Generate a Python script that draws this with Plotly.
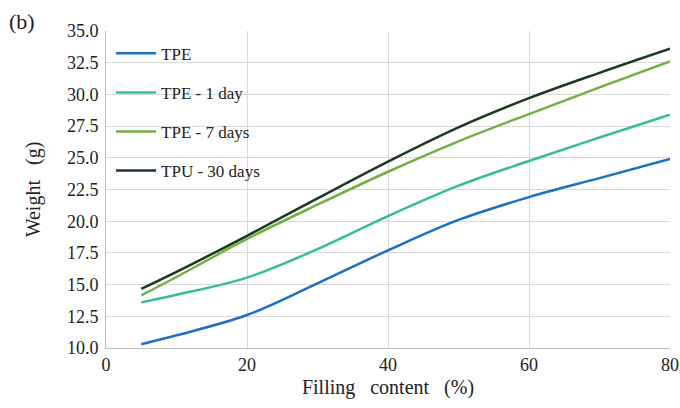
import plotly.graph_objects as go

filling = [5, 10, 20, 30, 40, 50, 60, 70, 80]
tpe = [10.3, 11.0, 12.6, 15.1, 17.7, 20.1, 21.9, 23.4, 24.9]
tpe_1day = [13.6, 14.2, 15.55, 17.8, 20.4, 22.8, 24.75, 26.6, 28.4]
tpe_7days = [14.15, 15.6, 18.6, 21.3, 23.9, 26.3, 28.45, 30.55, 32.6]
tpu_30days = [14.66, 16.0, 18.85, 21.8, 24.7, 27.4, 29.7, 31.7, 33.6]

names = ["TPE", "TPE - 1 day", "TPE - 7 days", "TPU - 30 days"]
series = [tpe, tpe_1day, tpe_7days, tpu_30days]
colors = ["#1a70c2", "#33bf90", "#72b043", "#1a3a1e"]

font_family = "Liberation Serif, Times New Roman, serif"

fig = go.Figure()
for i, (n, s, c) in enumerate(zip(names, series, colors)):
    fig.add_trace(go.Scatter(
        x=filling, y=s, name=n, mode="lines",
        line=dict(color=c, width=2.5, shape="spline", smoothing=1.0),
        legendgroup=f"g{i}",
    ))

fig.update_layout(
    width=680, height=408,
    margin=dict(l=106, r=10, t=31, b=60),
    paper_bgcolor="white", plot_bgcolor="white",
    font=dict(family=font_family, size=18, color="#222222"),
    legend=dict(
        x=0.009, y=0.985, xanchor="left", yanchor="top",
        bgcolor="rgba(0,0,0,0)", font=dict(size=17, family=font_family),
        traceorder="grouped", tracegroupgap=14, itemwidth=40,
    ),
    xaxis=dict(
        range=[0, 80], tickvals=[0, 20, 40, 60, 80],
        tickfont=dict(family=font_family, size=18, color="#222222"),
        showgrid=True, gridcolor="#d9d9d9", gridwidth=1,
        showline=True, linecolor="#bfbfbf", linewidth=1,
        zeroline=False, ticks="", automargin=False, ticklabeloverflow="allow",
        title=dict(text="Filling&#160;&#160;&#160;content&#160;&#160;&#160;(%)",
                   font=dict(size=20, family=font_family), standoff=6),
    ),
    yaxis=dict(
        range=[10, 35], tickvals=[10, 12.5, 15, 17.5, 20, 22.5, 25, 27.5, 30, 32.5, 35],
        tickformat=".1f",
        tickfont=dict(family=font_family, size=18, color="#222222"),
        showgrid=True, gridcolor="#d9d9d9", gridwidth=1,
        showline=True, linecolor="#bfbfbf", linewidth=1,
        zeroline=False, ticks="", automargin=False, ticklabelstandoff=3,
        ticklabeloverflow="allow",
        title=dict(text="Weight&#160;&#160;&#160;(g)",
                   font=dict(size=20, family=font_family), standoff=20),
    ),
    annotations=[dict(
        text="(b)", xref="paper", yref="paper", x=-0.176, y=1.075,
        xanchor="left", yanchor="top", showarrow=False,
        font=dict(size=22, family=font_family),
    )],
)

# remove the default 8px page margin so the 680x408 figure fills the window exactly
fig.write_html("out.html",
               config={"displayModeBar": False},
               post_script="document.body.style.margin='0px';document.body.style.overflow='hidden';")
